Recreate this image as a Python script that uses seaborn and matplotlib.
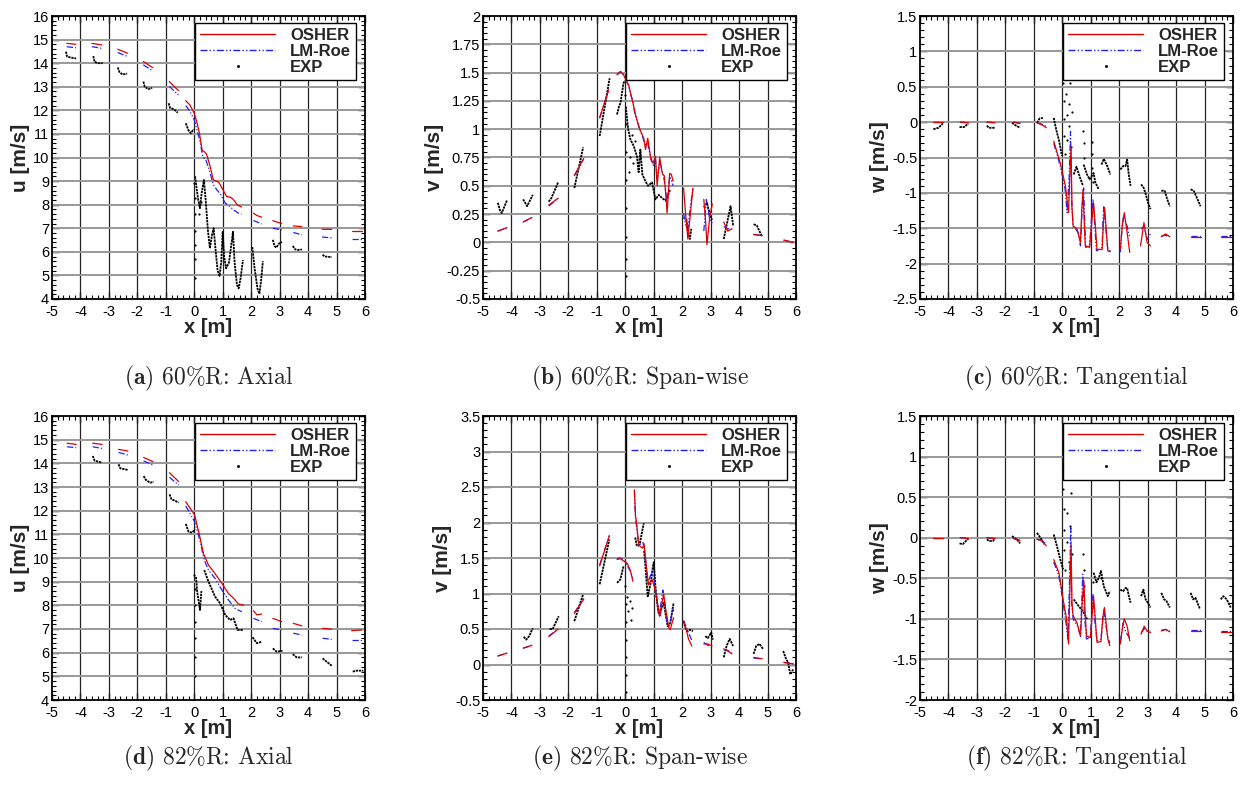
import matplotlib
matplotlib.use("Agg")
import matplotlib.pyplot as plt
from matplotlib.ticker import MultipleLocator, AutoMinorLocator, FuncFormatter
from matplotlib.lines import Line2D
import pandas as pd
import seaborn as sns

# ---------------------------------------------------------------- data
# each series is a list of segments, each segment a list of (x, value)

# (a) 60%R axial velocity u
A_OSHER = [
    [(-4.48, 14.84), (-4.16, 14.80)],
    [(-3.60, 14.84), (-3.25, 14.77)],
    [(-2.69, 14.59), (-2.34, 14.42)],
    [(-1.79, 14.07), (-1.46, 13.81)],
    [(-0.88, 13.22), (-0.56, 12.84)],
    [(-0.30, 12.41), (-0.15, 12.22), (0.00, 11.88), (0.10, 11.45), (0.18, 11.03),
     (0.28, 10.29), (0.36, 10.24), (0.43, 10.15), (0.55, 9.65), (0.67, 9.05),
     (0.78, 9.00), (0.87, 8.93), (1.00, 8.65), (1.14, 8.34), (1.25, 8.32),
     (1.33, 8.27), (1.42, 8.15), (1.51, 7.99), (1.66, 7.90)],
    [(2.08, 7.64), (2.20, 7.54), (2.37, 7.47)],
    [(2.76, 7.32), (3.07, 7.20)],
    [(3.48, 7.10), (3.78, 7.07)],
    [(4.49, 6.96), (4.83, 6.95)],
    [(5.53, 6.90), (5.88, 6.90)],
]
A_LMROE = [
    [(-4.48, 14.70), (-4.16, 14.65)],
    [(-3.60, 14.70), (-3.25, 14.63)],
    [(-2.69, 14.45), (-2.34, 14.28)],
    [(-1.79, 13.93), (-1.46, 13.67)],
    [(-0.88, 13.02), (-0.56, 12.65)],
    [(-0.30, 12.20), (-0.15, 11.95), (0.00, 11.60), (0.12, 11.05), (0.20, 10.70),
     (0.30, 10.02), (0.40, 9.92), (0.52, 9.50), (0.67, 8.85), (0.80, 8.62),
     (0.92, 8.45), (1.08, 8.08), (1.25, 7.92), (1.40, 7.76), (1.55, 7.64), (1.66, 7.60)],
    [(2.08, 7.33), (2.37, 7.18)],
    [(2.76, 7.00), (3.07, 6.93)],
    [(3.48, 6.82), (3.78, 6.72)],
    [(4.49, 6.63), (4.83, 6.59)],
    [(5.53, 6.55), (5.88, 6.55)],
]
A_EXP = [
    [(-4.51, 14.49), (-4.47, 14.28), (-4.35, 14.24), (-4.15, 14.20)],
    [(-3.55, 14.30), (-3.50, 14.05), (-3.38, 14.00), (-3.22, 14.00)],
    [(-2.69, 13.82), (-2.63, 13.62), (-2.52, 13.52), (-2.36, 13.56)],
    [(-1.79, 13.22), (-1.74, 13.00), (-1.62, 12.90), (-1.48, 12.95)],
    [(-0.90, 12.30), (-0.85, 12.10), (-0.72, 12.05), (-0.58, 11.90)],
    [(-0.30, 11.45), (-0.20, 11.15), (-0.12, 11.03), (-0.05, 11.15), (0.02, 11.20)],
    [(0.03, 9.20), (0.08, 8.70), (0.14, 8.20), (0.20, 7.85), (0.26, 8.50), (0.34, 9.05),
     (0.40, 8.20), (0.48, 6.90), (0.55, 6.15), (0.62, 6.70), (0.68, 7.00), (0.74, 6.20),
     (0.82, 5.20), (0.89, 4.98), (0.95, 5.60), (1.00, 6.85), (1.05, 5.80), (1.12, 5.30),
     (1.22, 5.55), (1.36, 6.85), (1.42, 5.50), (1.50, 4.60), (1.56, 4.45), (1.63, 4.90),
     (1.71, 5.65)],
    [(2.04, 6.20), (2.12, 5.30), (2.22, 4.45), (2.29, 4.22), (2.35, 4.80), (2.41, 5.60)],
    [(2.76, 6.51), (2.82, 6.25), (2.88, 6.18), (2.98, 6.35), (3.08, 6.42)],
    [(3.46, 6.25), (3.55, 6.10), (3.65, 6.08), (3.78, 6.10)],
    [(4.51, 5.88), (4.58, 5.80), (4.83, 5.78)],
]
A_EXP_SCATTER = [(0.00, 8.9), (0.01, 8.3), (0.01, 7.6), (0.02, 6.9), (0.02, 6.3),
                 (0.03, 5.7), (0.03, 4.9), (0.16, 7.6), (0.22, 8.1)]

# (b) 60%R span-wise velocity v
B_OSHER = [
    [(-4.48, 0.10), (-4.16, 0.13)],
    [(-3.59, 0.18), (-3.28, 0.22)],
    [(-2.69, 0.33), (-2.36, 0.39)],
    [(-1.79, 0.59), (-1.46, 0.74)],
    [(-0.90, 1.10), (-0.58, 1.35)],
    [(-0.29, 1.48), (-0.17, 1.51), (-0.06, 1.48), (0.05, 1.42), (0.12, 1.39), (0.20, 1.30),
     (0.27, 1.23), (0.34, 1.15), (0.41, 1.08), (0.50, 1.01), (0.56, 0.97), (0.65, 0.92),
     (0.71, 0.82), (0.79, 0.92), (0.85, 0.82), (0.90, 0.73), (0.98, 0.70), (1.06, 0.76),
     (1.12, 0.50), (1.21, 0.75), (1.30, 0.61), (1.37, 0.59), (1.43, 0.40), (1.47, 0.26),
     (1.56, 0.61), (1.62, 0.60), (1.68, 0.54)],
    [(2.05, 0.48), (2.12, 0.25), (2.20, 0.03), (2.29, 0.26), (2.38, 0.48)],
    [(2.76, 0.38), (2.82, 0.20), (2.87, -0.02), (2.97, 0.23), (3.06, 0.34)],
    [(3.46, 0.18), (3.60, 0.10), (3.75, 0.12)],
    [(4.51, 0.07), (4.81, 0.06)],
    [(5.57, 0.02), (5.90, 0.00)],
]
B_LMROE = [
    [(-4.48, 0.10), (-4.16, 0.13)],
    [(-3.59, 0.18), (-3.28, 0.22)],
    [(-2.69, 0.32), (-2.36, 0.39)],
    [(-1.79, 0.59), (-1.46, 0.74)],
    [(-0.90, 1.10), (-0.58, 1.35)],
    [(-0.29, 1.48), (-0.17, 1.51), (-0.06, 1.48), (0.05, 1.42), (0.12, 1.38), (0.20, 1.30),
     (0.27, 1.25), (0.34, 1.13), (0.41, 1.08), (0.50, 1.00), (0.56, 0.97), (0.65, 0.90),
     (0.71, 0.85), (0.79, 0.88), (0.85, 0.80), (0.90, 0.75), (0.98, 0.68), (1.06, 0.74),
     (1.12, 0.55), (1.21, 0.72), (1.30, 0.62), (1.37, 0.55), (1.47, 0.35), (1.56, 0.58),
     (1.62, 0.55), (1.68, 0.50)],
    [(2.05, 0.26), (2.12, 0.15), (2.20, 0.12), (2.29, 0.32), (2.38, 0.48)],
    [(2.76, 0.10), (2.85, 0.38), (2.97, 0.20), (3.06, 0.17)],
    [(3.46, 0.14), (3.60, 0.12), (3.75, 0.12)],
    [(4.51, 0.07), (4.81, 0.06)],
    [(5.57, 0.02), (5.90, 0.00)],
]
B_EXP = [
    [(-4.48, 0.35), (-4.40, 0.28), (-4.34, 0.26), (-4.16, 0.37)],
    [(-3.59, 0.38), (-3.45, 0.32), (-3.25, 0.42)],
    [(-2.69, 0.36), (-2.60, 0.39), (-2.36, 0.53)],
    [(-1.79, 0.48), (-1.48, 0.84)],
    [(-0.90, 0.94), (-0.55, 1.45)],
    [(-0.29, 1.13), (-0.22, 1.20), (-0.17, 1.23), (-0.06, 1.41), (0.00, 1.43)],
    [(0.02, 1.20), (0.10, 1.00), (0.18, 0.91), (0.30, 0.85), (0.41, 0.76), (0.47, 0.62),
     (0.53, 0.82), (0.60, 0.60), (0.71, 0.54), (0.80, 0.50), (0.94, 0.53), (1.06, 0.38),
     (1.18, 0.42), (1.30, 0.39), (1.41, 0.37), (1.48, 0.40), (1.58, 0.47)],
    [(2.05, 0.22), (2.15, 0.20), (2.22, 0.08), (2.27, 0.03), (2.32, 0.12)],
    [(2.76, 0.31), (2.87, 0.35), (2.97, 0.25), (3.05, 0.20)],
    [(3.46, 0.03), (3.56, 0.15), (3.70, 0.32), (3.79, 0.15)],
    [(4.51, 0.16), (4.62, 0.15), (4.81, 0.05)],
]
B_EXP_SCATTER = [(0.00, 1.30), (0.01, 1.05), (0.01, 0.80), (0.02, 0.55), (0.02, 0.30),
                 (0.03, 0.05), (0.03, -0.15), (0.04, -0.30), (0.15, 0.75), (0.22, 0.95),
                 (0.28, 0.70), (0.35, 0.90), (0.12, 0.62)]

# (c) 60%R tangential velocity w
C_OSHER = [
    [(-4.53, 0.00), (-4.18, 0.00)],
    [(-3.59, 0.00), (-3.30, -0.01)],
    [(-2.65, 0.00), (-2.36, -0.01)],
    [(-1.71, 0.00), (-1.48, -0.02)],
    [(-0.89, -0.01), (-0.71, -0.04), (-0.56, -0.08)],
    [(-0.30, -0.27), (-0.07, -0.58), (0.11, -0.90), (0.22, -1.28), (0.26, -0.80),
     (0.31, -0.35), (0.34, -1.20), (0.38, -1.47), (0.52, -1.51), (0.64, -1.70),
     (0.69, -1.20), (0.73, -0.95), (0.77, -1.40), (0.81, -1.75), (0.96, -1.77),
     (1.03, -1.45), (1.10, -1.14), (1.16, -1.45), (1.22, -1.80), (1.40, -1.80),
     (1.45, -1.40), (1.49, -1.21), (1.54, -1.50), (1.60, -1.82), (1.69, -1.83)],
    [(2.04, -1.80), (2.11, -1.45), (2.18, -1.28), (2.28, -1.56), (2.37, -1.84)],
    [(2.75, -1.75), (2.87, -1.42), (2.98, -1.70), (3.10, -1.75)],
    [(3.48, -1.62), (3.63, -1.58), (3.78, -1.62)],
    [(4.51, -1.62), (4.86, -1.62)],
    [(5.57, -1.62), (5.92, -1.62)],
]
C_LMROE = [
    [(-4.53, 0.00), (-4.18, 0.00)],
    [(-3.59, 0.00), (-3.30, -0.01)],
    [(-2.65, 0.00), (-2.36, -0.01)],
    [(-1.71, 0.00), (-1.48, -0.02)],
    [(-0.89, -0.01), (-0.71, -0.03), (-0.56, -0.06)],
    [(-0.30, -0.30), (-0.07, -0.62), (0.10, -0.95), (0.17, -1.28), (0.24, -0.80),
     (0.29, -0.13), (0.33, -1.10), (0.38, -1.47), (0.56, -1.56), (0.64, -1.75),
     (0.70, -1.20), (0.75, -0.93), (0.79, -1.40), (0.82, -1.77), (0.96, -1.75),
     (1.02, -1.40), (1.08, -1.09), (1.14, -1.45), (1.20, -1.82), (1.40, -1.77),
     (1.43, -1.40), (1.46, -1.18), (1.53, -1.50), (1.60, -1.80), (1.69, -1.82)],
    [(2.04, -1.84), (2.10, -1.50), (2.15, -1.33), (2.28, -1.47), (2.37, -1.63)],
    [(2.77, -1.51), (2.87, -1.47), (2.98, -1.66), (3.10, -1.58)],
    [(3.48, -1.61), (3.63, -1.60), (3.78, -1.62)],
    [(4.51, -1.61), (4.86, -1.61)],
    [(5.57, -1.61), (5.92, -1.61)],
]
C_EXP = [
    [(-4.53, -0.10), (-4.35, -0.08), (-4.20, -0.02)],
    [(-3.61, -0.07), (-3.45, -0.07), (-3.30, -0.02)],
    [(-2.65, -0.05), (-2.58, -0.08), (-2.36, -0.08)],
    [(-1.77, -0.01), (-1.62, -0.05), (-1.48, -0.08)],
    [(-0.89, -0.01), (-0.80, 0.05), (-0.68, 0.06)],
    [(-0.30, 0.06), (-0.21, -0.11), (-0.12, -0.25), (-0.01, -0.48)],
    [(0.40, -0.74), (0.50, -0.63), (0.61, -0.77), (0.73, -0.90)],
    [(0.75, -0.60), (0.87, -0.74), (0.96, -0.81), (1.10, -0.72), (1.16, -0.85), (1.28, -0.95)],
    [(1.38, -0.60), (1.46, -0.52), (1.58, -0.62), (1.69, -0.74)],
    [(2.04, -0.67), (2.14, -0.62), (2.22, -0.62), (2.28, -0.53), (2.34, -0.75), (2.40, -0.90)],
    [(2.77, -0.88), (2.85, -0.92), (2.92, -1.00), (3.00, -1.12), (3.10, -1.23)],
    [(3.48, -0.97), (3.60, -0.97), (3.68, -1.08), (3.78, -1.19)],
    [(4.51, -0.95), (4.62, -0.97), (4.72, -1.06), (4.86, -1.19)],
]
C_EXP_SCATTER = [(0.02, 1.15), (0.03, 0.85), (0.04, 0.55), (0.05, 0.30), (0.06, 0.05),
                 (0.07, -0.20), (0.08, -0.45), (0.14, 0.40), (0.16, 0.10), (0.18, -0.25),
                 (0.22, 0.25), (0.25, -0.05), (0.28, 0.55), (0.30, -0.35), (0.33, 0.15),
                 (0.74, -0.12), (0.75, -0.30), (0.76, -0.50), (1.04, -0.28), (1.05, -0.45),
                 (1.06, -0.65), (1.07, -0.85)]

# (d) 82%R axial velocity u
D_OSHER = [
    [(-4.47, 14.85), (-4.15, 14.80)],
    [(-3.57, 14.85), (-3.24, 14.80)],
    [(-2.66, 14.59), (-2.33, 14.52)],
    [(-1.78, 14.25), (-1.45, 14.07)],
    [(-0.87, 13.60), (-0.55, 13.23)],
    [(-0.30, 12.38), (0.01, 11.82), (0.17, 11.04), (0.32, 10.20), (0.50, 9.70),
     (0.68, 9.42), (0.97, 8.93), (1.20, 8.50), (1.38, 8.30), (1.55, 8.06), (1.73, 8.01)],
    [(2.08, 7.77), (2.20, 7.60), (2.37, 7.63)],
    [(2.76, 7.45), (3.07, 7.31)],
    [(3.48, 7.24), (3.78, 7.13)],
    [(4.51, 7.03), (4.83, 6.99)],
    [(5.53, 6.93), (5.88, 6.96)],
]
D_LMROE = [
    [(-4.47, 14.70), (-4.15, 14.66)],
    [(-3.57, 14.70), (-3.24, 14.63)],
    [(-2.66, 14.46), (-2.33, 14.35)],
    [(-1.78, 14.10), (-1.45, 13.93)],
    [(-0.87, 13.41), (-0.55, 13.08)],
    [(-0.30, 12.20), (0.01, 11.54), (0.21, 10.69), (0.35, 9.92), (0.50, 9.49),
     (0.73, 9.14), (0.97, 8.65), (1.20, 8.23), (1.43, 7.87), (1.67, 7.73)],
    [(2.08, 7.45), (2.37, 7.31)],
    [(2.76, 7.03), (3.07, 6.96)],
    [(3.48, 6.82), (3.78, 6.75)],
    [(4.51, 6.61), (4.83, 6.56)],
    [(5.53, 6.54), (5.88, 6.54)],
]
D_EXP = [
    [(-3.57, 14.31), (-3.50, 14.11), (-3.24, 14.03)],
    [(-2.66, 13.96), (-2.60, 13.79), (-2.33, 13.72)],
    [(-1.78, 13.46), (-1.70, 13.30), (-1.55, 13.18), (-1.43, 13.22)],
    [(-0.87, 12.69), (-0.80, 12.48), (-0.68, 12.42), (-0.55, 12.34)],
    [(-0.30, 11.44), (-0.20, 11.11), (-0.08, 11.07), (0.03, 11.21)],
    [(0.06, 9.20), (0.10, 8.60), (0.15, 8.20), (0.20, 7.80), (0.25, 8.60)],
    [(0.35, 9.49), (0.50, 9.00), (0.73, 8.37), (0.91, 8.08), (1.09, 7.59), (1.26, 7.38),
     (1.38, 7.45), (1.52, 6.96), (1.71, 6.96)],
    [(2.05, 6.65), (2.20, 6.40), (2.37, 6.46)],
    [(2.76, 6.18), (2.90, 6.04), (3.10, 6.08)],
    [(3.46, 5.94), (3.60, 5.80), (3.78, 5.80)],
    [(4.51, 5.76), (4.65, 5.62), (4.83, 5.45)],
    [(5.57, 5.20), (5.71, 5.24), (5.94, 5.24)],
]
D_EXP_SCATTER = [(0.00, 9.30), (0.01, 8.70), (0.01, 8.00), (0.02, 7.30), (0.02, 6.60),
                 (0.03, 5.80), (0.03, 5.00)]

# (e) 82%R span-wise velocity v
E_OSHER = [
    [(-4.48, 0.12), (-4.16, 0.16)],
    [(-3.59, 0.23), (-3.28, 0.27)],
    [(-2.69, 0.39), (-2.36, 0.50)],
    [(-1.79, 0.72), (-1.46, 0.92)],
    [(-0.90, 1.39), (-0.56, 1.81)],
    [(-0.29, 1.48), (-0.17, 1.49), (-0.06, 1.46), (0.06, 1.43), (0.15, 1.35),
     (0.20, 1.29), (0.27, 1.17)],
    [(0.32, 2.46), (0.36, 2.10), (0.41, 1.95), (0.47, 1.70), (0.53, 1.66), (0.61, 1.64),
     (0.66, 1.70), (0.70, 1.53), (0.76, 1.30), (0.82, 1.12), (0.88, 1.17), (0.94, 1.20),
     (1.02, 1.10), (1.09, 0.96), (1.15, 0.82), (1.21, 0.68), (1.28, 0.85), (1.35, 0.99),
     (1.41, 0.80), (1.47, 0.66), (1.53, 0.52), (1.58, 0.49), (1.64, 0.58), (1.70, 0.66)],
    [(2.05, 0.61), (2.15, 0.48), (2.22, 0.36), (2.34, 0.26)],
    [(2.76, 0.29), (2.90, 0.29), (3.05, 0.26)],
    [(3.46, 0.22), (3.60, 0.19), (3.75, 0.15)],
    [(4.51, 0.10), (4.81, 0.08)],
    [(5.57, 0.03), (5.90, 0.01)],
]
E_LMROE = [
    [(-4.48, 0.12), (-4.16, 0.16)],
    [(-3.59, 0.23), (-3.28, 0.27)],
    [(-2.69, 0.40), (-2.36, 0.50)],
    [(-1.79, 0.73), (-1.46, 0.93)],
    [(-0.90, 1.40), (-0.56, 1.82)],
    [(-0.29, 1.49), (-0.17, 1.50), (-0.06, 1.47), (0.06, 1.40), (0.20, 1.30), (0.27, 1.20)],
    [(0.32, 2.44), (0.36, 2.05), (0.41, 1.90), (0.47, 1.68), (0.55, 1.70), (0.62, 1.72),
     (0.68, 1.62), (0.74, 1.38), (0.80, 1.15), (0.88, 1.25), (0.95, 1.30), (1.03, 1.15),
     (1.10, 0.95), (1.17, 0.70), (1.25, 0.85), (1.32, 1.05), (1.40, 0.85), (1.47, 0.60),
     (1.53, 0.55), (1.60, 0.62), (1.66, 0.80), (1.70, 0.75)],
    [(2.05, 0.62), (2.15, 0.52), (2.25, 0.42), (2.34, 0.34)],
    [(2.76, 0.31), (2.90, 0.27), (3.05, 0.27)],
    [(3.46, 0.21), (3.60, 0.20), (3.75, 0.16)],
    [(4.51, 0.09), (4.81, 0.08)],
    [(5.57, 0.03), (5.90, 0.01)],
]
E_EXP = [
    [(-3.57, 0.39), (-3.48, 0.35), (-3.38, 0.40), (-3.25, 0.51)],
    [(-2.66, 0.50), (-2.55, 0.50), (-2.34, 0.68)],
    [(-1.79, 0.61), (-1.48, 0.99)],
    [(-0.90, 1.13), (-0.56, 1.76)],
    [(-0.29, 1.15), (-0.22, 1.18), (-0.17, 1.20), (-0.06, 1.39)],
    [(0.35, 1.79), (0.40, 1.68), (0.45, 1.67), (0.52, 1.72), (0.58, 1.85), (0.65, 1.99)],
    [(0.66, 1.60), (0.70, 1.43), (0.75, 1.15), (0.79, 0.96), (0.84, 1.05), (0.90, 1.16),
     (0.96, 1.35), (1.00, 1.44), (1.06, 1.10), (1.12, 0.87), (1.16, 0.75), (1.21, 0.69),
     (1.28, 0.80), (1.35, 0.87), (1.42, 0.70), (1.49, 0.54), (1.54, 0.55), (1.58, 0.59),
     (1.64, 0.72), (1.70, 0.87)],
    [(2.05, 0.61), (2.11, 0.52), (2.17, 0.47), (2.28, 0.49), (2.38, 0.47)],
    [(2.81, 0.40), (2.90, 0.37), (3.02, 0.45), (3.08, 0.35)],
    [(3.46, 0.10), (3.56, 0.26), (3.67, 0.36), (3.79, 0.26)],
    [(4.51, 0.15), (4.60, 0.26), (4.72, 0.29), (4.84, 0.22)],
    [(5.55, 0.19), (5.65, 0.08), (5.72, 0.03), (5.80, -0.14), (5.90, -0.07)],
]
E_EXP_SCATTER = [(0.00, 1.10), (0.01, 0.85), (0.01, 0.60), (0.02, 0.35), (0.02, 0.10),
                 (0.03, -0.15), (0.03, -0.39), (0.05, 0.95), (0.10, 0.75), (0.15, 0.90),
                 (0.20, 0.62), (0.24, 0.80)]

# (f) 82%R tangential velocity w
F_OSHER = [
    [(-4.53, 0.00), (-4.18, 0.00)],
    [(-3.59, 0.00), (-3.30, -0.01)],
    [(-2.65, 0.00), (-2.36, -0.01)],
    [(-1.71, -0.01), (-1.48, -0.04)],
    [(-0.89, -0.02), (-0.71, -0.04), (-0.56, -0.10)],
    [(-0.30, -0.27), (-0.12, -0.43), (0.03, -0.76), (0.15, -1.00), (0.22, -1.31),
     (0.27, -0.60), (0.31, -0.10), (0.34, -0.80), (0.38, -0.96), (0.52, -1.05),
     (0.64, -1.21), (0.70, -0.80), (0.76, -0.53), (0.80, -0.90), (0.85, -1.21),
     (0.99, -1.23), (1.05, -0.95), (1.10, -0.72), (1.16, -1.00), (1.22, -1.29),
     (1.36, -1.28), (1.42, -1.00), (1.48, -0.86), (1.54, -1.05), (1.60, -1.25), (1.67, -1.33)],
    [(2.04, -1.31), (2.12, -1.10), (2.18, -1.00), (2.28, -1.09), (2.37, -1.27)],
    [(2.77, -1.19), (2.88, -1.09), (2.98, -1.15), (3.10, -1.17)],
    [(3.48, -1.15), (3.63, -1.13), (3.78, -1.16)],
    [(4.51, -1.15), (4.86, -1.15)],
    [(5.57, -1.16), (5.92, -1.16)],
]
F_LMROE = [
    [(-4.53, 0.00), (-4.18, 0.00)],
    [(-3.59, 0.00), (-3.30, -0.01)],
    [(-2.65, 0.00), (-2.36, -0.01)],
    [(-1.71, -0.01), (-1.48, -0.03)],
    [(-0.89, -0.02), (-0.71, -0.03), (-0.56, -0.08)],
    [(-0.30, -0.30), (-0.12, -0.47), (0.03, -0.80), (0.13, -1.05), (0.20, -1.25),
     (0.25, -0.60), (0.30, 0.14), (0.33, -0.80), (0.38, -1.00), (0.55, -1.10),
     (0.64, -1.22), (0.72, -0.45), (0.78, -0.95), (0.85, -1.25), (0.99, -1.22),
     (1.08, -0.70), (1.15, -1.05), (1.22, -1.27), (1.36, -1.25), (1.46, -0.88),
     (1.52, -1.05), (1.60, -1.22), (1.67, -1.30)],
    [(2.04, -1.28), (2.14, -1.05), (2.22, -1.15), (2.30, -1.20), (2.37, -1.24)],
    [(2.77, -1.17), (2.88, -1.12), (2.98, -1.15), (3.10, -1.15)],
    [(3.48, -1.14), (3.63, -1.13), (3.78, -1.15)],
    [(4.51, -1.14), (4.86, -1.14)],
    [(5.57, -1.15), (5.92, -1.15)],
]
F_EXP = [
    [(-3.61, -0.07), (-3.50, -0.08), (-3.30, -0.01)],
    [(-2.65, -0.02), (-2.58, -0.04), (-2.44, -0.04), (-2.36, -0.01)],
    [(-1.77, 0.02), (-1.60, -0.02), (-1.48, -0.07)],
    [(-0.89, 0.06), (-0.77, 0.00), (-0.63, -0.08)],
    [(-0.30, 0.04), (-0.19, -0.10), (-0.07, -0.27), (0.03, -0.39)],
    [(0.40, -0.76), (0.57, -0.84), (0.75, -0.92), (0.87, -1.00)],
    [(1.10, -0.43), (1.20, -0.55), (1.28, -0.50), (1.36, -0.41), (1.46, -0.60),
     (1.60, -0.72), (1.67, -0.66)],
    [(2.04, -0.64), (2.14, -0.66), (2.22, -0.62), (2.28, -0.62), (2.34, -0.72), (2.40, -0.80)],
    [(2.77, -0.72), (2.85, -0.64), (2.93, -0.76), (3.00, -0.80), (3.10, -0.86)],
    [(3.48, -0.68), (3.58, -0.76), (3.66, -0.78), (3.78, -0.86)],
    [(4.51, -0.68), (4.60, -0.76), (4.68, -0.74), (4.84, -0.88)],
    [(5.57, -0.76), (5.66, -0.72), (5.78, -0.76), (5.92, -0.86)],
]
F_EXP_SCATTER = [(0.02, 1.10), (0.03, 0.85), (0.04, 0.60), (0.05, 0.35), (0.06, 0.10),
                 (0.07, -0.15), (0.08, -0.40), (0.15, 0.30), (0.18, -0.05), (0.22, -0.30),
                 (0.26, 0.15), (0.30, 0.85), (0.31, 0.55), (0.33, -0.20), (0.74, -0.20),
                 (0.75, -0.40), (0.76, -0.60), (1.09, -0.55), (1.35, -0.50)]

PANELS = [
    ("a", "60%R: Axial", "u [m/s]", (4, 16), 1.0, A_OSHER, A_LMROE, A_EXP, A_EXP_SCATTER),
    ("b", "60%R: Span-wise", "v [m/s]", (-0.5, 2), 0.25, B_OSHER, B_LMROE, B_EXP, B_EXP_SCATTER),
    ("c", "60%R: Tangential", "w [m/s]", (-2.5, 1.5), 0.5, C_OSHER, C_LMROE, C_EXP, C_EXP_SCATTER),
    ("d", "82%R: Axial", "u [m/s]", (4, 16), 1.0, D_OSHER, D_LMROE, D_EXP, D_EXP_SCATTER),
    ("e", "82%R: Span-wise", "v [m/s]", (-0.5, 3.5), 0.5, E_OSHER, E_LMROE, E_EXP, E_EXP_SCATTER),
    ("f", "82%R: Tangential", "w [m/s]", (-2, 1.5), 0.5, F_OSHER, F_LMROE, F_EXP, F_EXP_SCATTER),
]
X_TICKS = list(range(-5, 7))

# ---------------------------------------------------------------- style
sns.set_style("ticks")
plt.rcParams.update({
    "font.family": ["Liberation Sans", "DejaVu Sans"],
    "axes.unicode_minus": False,
    "mathtext.fontset": "cm",
    "axes.edgecolor": "black",
    "axes.linewidth": 1.3,
    "xtick.color": "black",
    "ytick.color": "black",
})

RED = "#e00000"
BLUE = "#2020ff"
LMROE_DASH = (0, (5, 1.6, 1, 1.6, 1, 1.6))
EXP_DOTS = (0, (1.3, 0.45))


def to_frame(segments):
    rows = [(k, x, y) for k, seg in enumerate(segments) for x, y in seg]
    return pd.DataFrame(rows, columns=["seg", "x", "val"])


fig = plt.figure(figsize=(12.4, 7.96), dpi=100)
W, H = 1240.0, 796.0
lefts = [52, 483, 920]
rows_px = [(16, 299), (416, 700)]
caption_y = [378, 758]

for i, (tag, title, ylabel, ylim, ystep, osher, lmroe, exp, exp_pts) in enumerate(PANELS):
    r, c = divmod(i, 3)
    top, bottom = rows_px[r]
    ax = fig.add_axes([lefts[c] / W, 1 - bottom / H, 313 / W, (bottom - top) / H])

    sns.lineplot(data=to_frame(exp), x="x", y="val", units="seg", estimator=None,
                 sort=False, color="black", linewidth=1.3, linestyle=EXP_DOTS,
                 ax=ax, legend=False, zorder=3)
    pts = pd.DataFrame(exp_pts, columns=["x", "val"])
    sns.scatterplot(data=pts, x="x", y="val", color="black", s=2.5, linewidth=0,
                    ax=ax, legend=False, zorder=3)
    sns.lineplot(data=to_frame(lmroe), x="x", y="val", units="seg", estimator=None,
                 sort=False, color=BLUE, linewidth=0.9, linestyle=LMROE_DASH,
                 ax=ax, legend=False, zorder=4)
    sns.lineplot(data=to_frame(osher), x="x", y="val", units="seg", estimator=None,
                 sort=False, color=RED, linewidth=0.9, ax=ax, legend=False, zorder=5)

    ax.set_xlim(-5, 6)
    ax.set_ylim(*ylim)
    ax.set_xticks(X_TICKS)
    ax.yaxis.set_major_locator(MultipleLocator(ystep))
    ax.xaxis.set_minor_locator(AutoMinorLocator(5))
    ax.yaxis.set_minor_locator(AutoMinorLocator(5))
    ax.yaxis.set_major_formatter(FuncFormatter(lambda v, p: "%g" % round(v, 4)))
    ax.xaxis.set_major_formatter(FuncFormatter(lambda v, p: "%g" % round(v, 4)))
    ax.tick_params(which="both", direction="in", top=True, right=True, labelsize=10.5)
    ax.tick_params(axis="y", pad=2)
    ax.tick_params(axis="x", pad=4.5)
    ax.tick_params(which="major", length=5, width=1)
    ax.tick_params(which="minor", length=3, width=0.8)

    ax.grid(False)
    for xv in X_TICKS[1:-1]:
        ax.axvline(xv, color="#222222", linewidth=0.9, zorder=1)
    yv = ylim[0] + ystep
    while yv < ylim[1] - 1e-9:
        ax.axhline(yv, color="#999999", linewidth=1.4, zorder=1)
        yv += ystep

    ax.set_xlabel("x [m]", fontsize=14.5, fontweight="bold", labelpad=-1)
    ax.set_ylabel(ylabel, fontsize=15, fontweight="bold", labelpad=2)

    handles = [
        Line2D([], [], color=RED, linewidth=1.0),
        Line2D([], [], color=BLUE, linewidth=1.0, linestyle=LMROE_DASH),
        Line2D([], [], color="black", linestyle="none", marker="s", markersize=1.0),
    ]
    leg = ax.legend(handles, ["OSHER", "LM-Roe", "EXP"], loc="upper right",
                    bbox_to_anchor=(0.972, 0.975), borderaxespad=0,
                    prop={"weight": "bold", "size": 12}, handlelength=4.5,
                    handletextpad=0.9, labelspacing=0.05, borderpad=0.3,
                    numpoints=1, fancybox=False, framealpha=1, edgecolor="black")
    leg.get_frame().set_linewidth(1.0)
    leg.set_zorder(10)

    cx = (lefts[c] + 156.5) / W
    fig.text(cx, 1 - caption_y[r] / H, r"$\mathbf{(%s)}$ %s" % (tag, title),
             family="cmr10", ha="center", va="center", fontsize=17)

fig.savefig("out.png", dpi=100)
